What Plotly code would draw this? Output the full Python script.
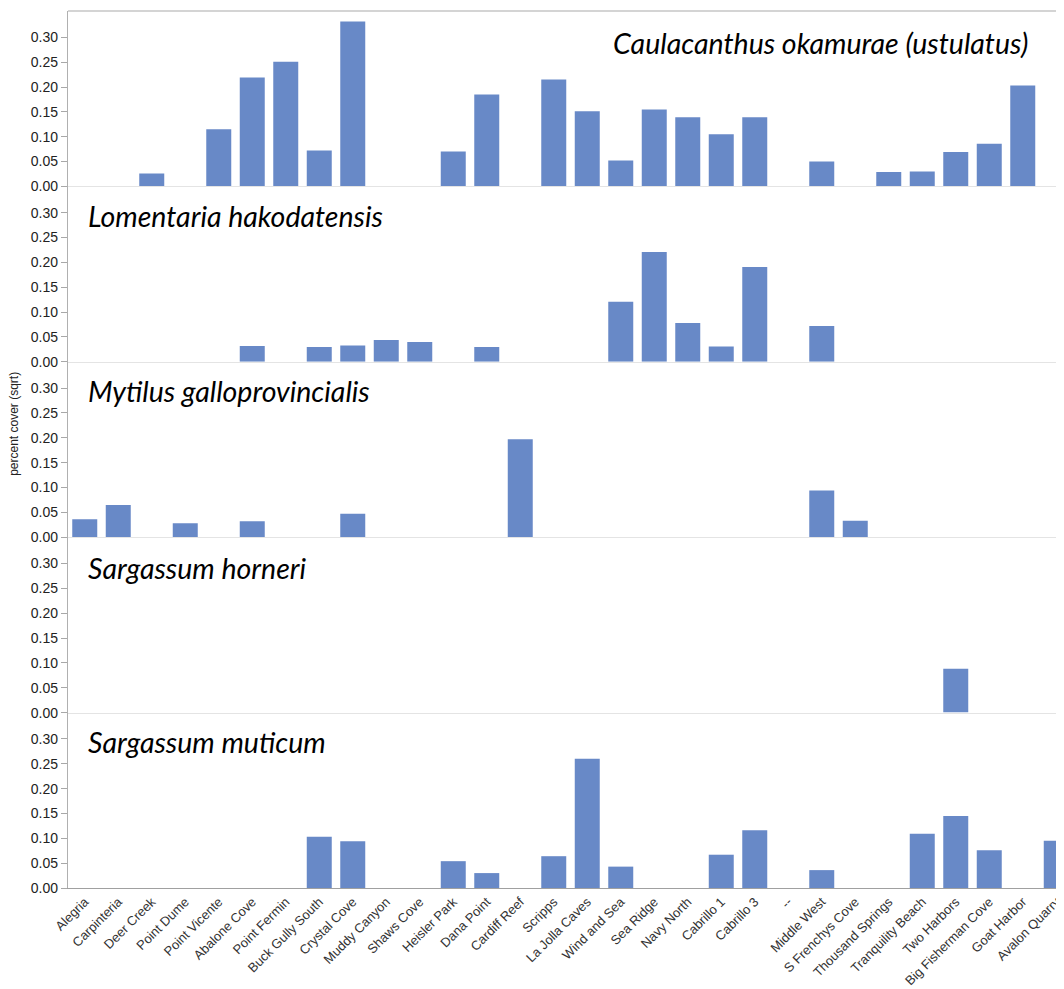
import plotly.graph_objects as go
from plotly.subplots import make_subplots

sites = ["Alegria", "Carpinteria", "Deer Creek", "Point Dume", "Point Vicente",
         "Abalone Cove", "Point Fermin", "Buck Gully South", "Crystal Cove",
         "Muddy Canyon", "Shaws Cove", "Heisler Park", "Dana Point", "Cardiff Reef",
         "Scripps", "La Jolla Caves", "Wind and Sea", "Sea Ridge", "Navy North",
         "Cabrillo 1", "Cabrillo 3", "--", "Middle West", "S Frenchys Cove",
         "Thousand Springs", "Tranquility Beach", "Two Harbors", "Big Fisherman Cove",
         "Goat Harbor", "Avalon Quarry"]

caulacanthus = [0, 0, 0.026, 0, 0.115, 0.219, 0.251, 0.072, 0.332, 0, 0, 0.070, 0.185, 0,
                0.215, 0.151, 0.052, 0.155, 0.139, 0.105, 0.139, 0, 0.050, 0, 0.029,
                0.030, 0.069, 0.086, 0.203, 0]
lomentaria = [0, 0, 0, 0, 0, 0.032, 0, 0.030, 0.033, 0.044, 0.040, 0, 0.030, 0,
              0, 0, 0.121, 0.221, 0.078, 0.031, 0.191, 0, 0.072, 0, 0,
              0, 0, 0, 0, 0]
mytilus = [0.036, 0.065, 0, 0.028, 0, 0.032, 0, 0, 0.047, 0, 0, 0, 0, 0.197,
           0, 0, 0, 0, 0, 0, 0, 0, 0.094, 0.033, 0,
           0, 0, 0, 0, 0]
horneri = [0, 0, 0, 0, 0, 0, 0, 0, 0, 0, 0, 0, 0, 0,
           0, 0, 0, 0, 0, 0, 0, 0, 0, 0, 0,
           0, 0.088, 0, 0, 0]
muticum = [0, 0, 0, 0, 0, 0, 0, 0.103, 0.094, 0, 0, 0.054, 0.030, 0,
           0.064, 0.260, 0.043, 0, 0, 0.067, 0.116, 0, 0.036, 0, 0,
           0.109, 0.145, 0.076, 0, 0.095]

species = ["Caulacanthus okamurae (ustulatus)", "Lomentaria hakodatensis",
           "Mytilus galloprovincialis", "Sargassum horneri", "Sargassum muticum"]
series = [caulacanthus, lomentaria, mytilus, horneri, muticum]
y_ticks = [0, 0.05, 0.10, 0.15, 0.20, 0.25, 0.30]

BAR = "#6889c7"

fig = make_subplots(rows=5, cols=1, shared_xaxes=True, vertical_spacing=0)
for i, vals in enumerate(series, start=1):
    fig.add_trace(go.Bar(x=sites, y=vals, marker_color=BAR, marker_line_width=0,
                         showlegend=False), row=i, col=1)

for i in range(1, 6):
    fig.update_yaxes(range=[0, 0.353], tickvals=y_ticks, tickformat=".2f",
                     ticks="outside", ticklen=6, tickcolor="#a8a8a8", tickwidth=1,
                     showline=True, linecolor="#b0b0b0", linewidth=1.3,
                     showgrid=False, zeroline=False,
                     tickfont=dict(family="Liberation Sans, Arial", size=14, color="#222"),
                     row=i, col=1)
    fig.update_xaxes(type="category", range=[-0.5, 29.47], showgrid=False, zeroline=False,
                     showline=True, linewidth=1.2,
                     linecolor="#e4e4e4" if i < 5 else "#a0a0a0",
                     ticks="", row=i, col=1)
fig.update_xaxes(tickangle=-45,
                 tickfont=dict(family="Liberation Sans, Arial", size=13, color="#333"),
                 row=5, col=1)

fig.add_shape(type="line", xref="paper", yref="paper", x0=0, x1=1, y0=1, y1=1,
              line=dict(color="#c6c6c6", width=1.6))

title_pos = [(0.958, 0.9635, "right"), (0.0175, 0.766, "left"), (0.0175, 0.5667, "left"),
             (0.0175, 0.365, "left"), (0.0175, 0.1665, "left")]
for (x, y, anchor), name in zip(title_pos, species):
    fig.add_annotation(xref="paper", yref="paper", x=x, y=y, xanchor=anchor,
                       yanchor="middle", showarrow=False, text="<i>" + name + "</i>",
                       font=dict(family="Lato", size=28.5, color="#000"))

fig.add_annotation(xref="paper", yref="paper", x=-0.054, y=0.529, xanchor="center",
                   yanchor="middle", showarrow=False, textangle=-90,
                   text="percent cover (sqrt)",
                   font=dict(family="Liberation Sans, Arial", size=12, color="#222"))

fig.update_layout(width=1064, height=989, margin=dict(l=60, r=0, t=3, b=109),
                  plot_bgcolor="white", paper_bgcolor="white", bargap=0.254)

fig.write_html("out.html")
